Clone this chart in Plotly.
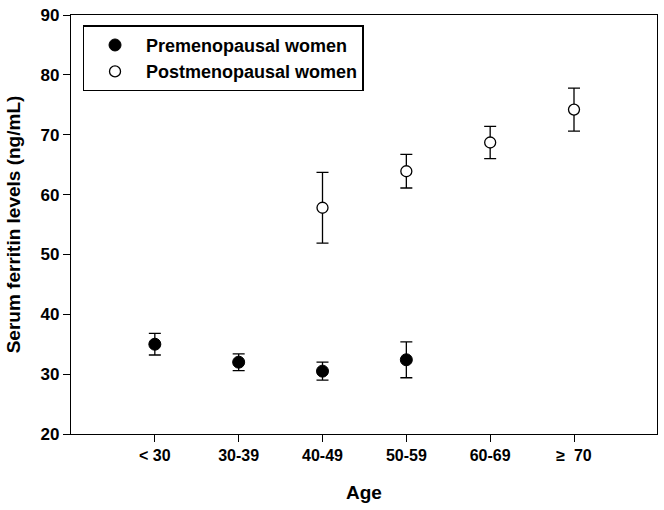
import plotly.graph_objects as go

ages = ["< 30", "30-39", "40-49", "50-59", "60-69", "\u2265  70"]

pre_ages = ["< 30", "30-39", "40-49", "50-59"]
pre_mean = [35.0, 32.0, 30.5, 32.4]
pre_err = [1.8, 1.4, 1.5, 3.0]

post_ages = ["40-49", "50-59", "60-69", "\u2265  70"]
post_mean = [57.8, 63.9, 68.7, 74.2]
post_err = [5.9, 2.8, 2.7, 3.6]

font = "Liberation Sans, Arial, sans-serif"

fig = go.Figure()
fig.add_trace(go.Scatter(
    x=pre_ages, y=pre_mean, mode="markers", name="Premenopausal women",
    marker=dict(symbol="circle", size=12, color="black", line=dict(color="black", width=1)),
    error_y=dict(type="data", array=pre_err, color="black", thickness=1.3, width=6),
))
fig.add_trace(go.Scatter(
    x=post_ages, y=post_mean, mode="markers", name="Postmenopausal women",
    marker=dict(symbol="circle", size=11, color="white", line=dict(color="black", width=1.3)),
    error_y=dict(type="data", array=post_err, color="black", thickness=1.3, width=6),
))

fig.update_layout(
    width=664, height=510,
    margin=dict(l=71, r=6, t=11, b=76),
    plot_bgcolor="white", paper_bgcolor="white",
    font=dict(family=font, size=16, color="black", weight="bold"),
    showlegend=True,
    legend=dict(
        x=0.02, y=0.975, xanchor="left", yanchor="top",
        bordercolor="black", borderwidth=1.3, bgcolor="white",
        font=dict(family=font, size=18, color="black", weight="bold"),
        itemwidth=52, tracegroupgap=0,
    ),
    xaxis=dict(
        type="category", categoryorder="array", categoryarray=ages,
        range=[-1, 5.99],
        showline=True, linecolor="black", linewidth=1.3, mirror=True,
        ticks="outside", ticklen=7, tickcolor="black",
        showgrid=False, zeroline=False,
        tickfont=dict(size=16),
        title=dict(text="Age", font=dict(size=19), standoff=22),
    ),
    yaxis=dict(
        range=[20, 90], dtick=10,
        showline=True, linecolor="black", linewidth=1.3, mirror=True,
        ticks="outside", ticklen=7, tickcolor="black",
        showgrid=False, zeroline=False,
        tickfont=dict(size=17),
        title=dict(text="Serum ferritin levels (ng/mL)", font=dict(size=19), standoff=14),
    ),
)

# the page has a default 8px body margin; drop it so the figure sits at 0,0
fig.write_html("out.html", config={"displayModeBar": False},
               post_script="document.body.style.margin='0';")
